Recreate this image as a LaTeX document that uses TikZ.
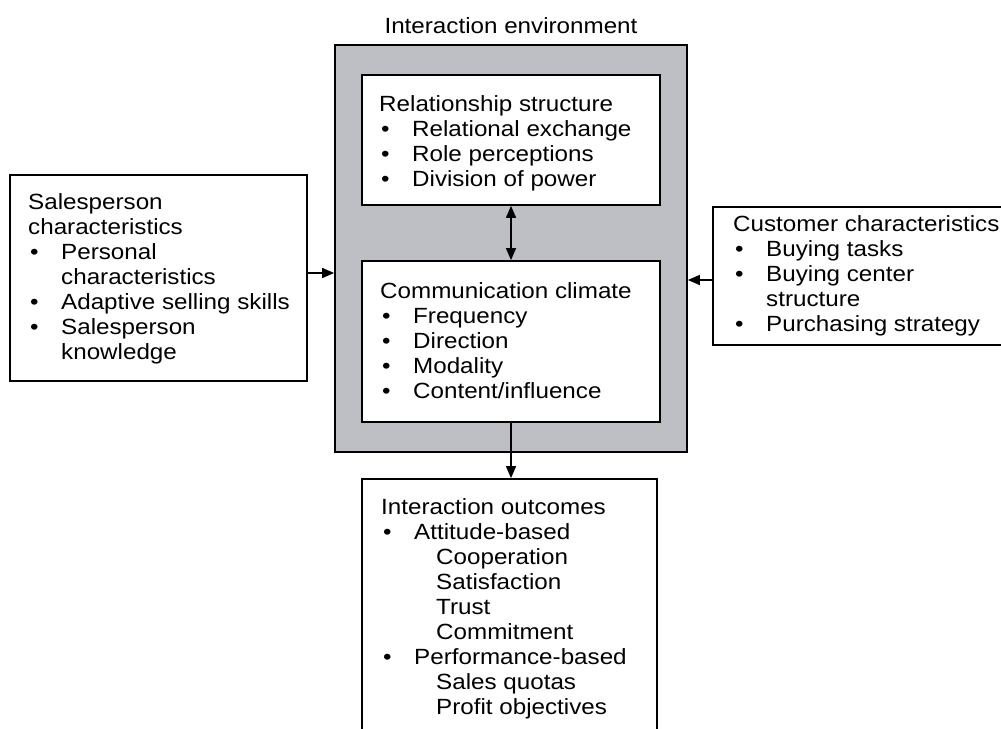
\documentclass[tikz,border=0pt]{standalone}
\usepackage{fontspec}
\setmainfont{Liberation Sans}[FakeStretch=1.1]
\usetikzlibrary{arrows.meta}
\definecolor{envgray}{RGB}{190,191,196}
% one line of a text block, a bulleted item, its continuation, a sub-item
\newcommand\tline[1]{\hbox{#1}}
\newcommand\titem[1]{\hbox{\makebox[33pt][l]{\hspace{2pt}\textbullet}#1}}
\newcommand\tcont[1]{\hbox{\hspace*{33pt}#1}}
\newcommand\tsub[1]{\hbox{\hspace*{55pt}#1}}
\newcommand\tblock[1]{\vtop{\baselineskip=25pt\lineskiplimit=-20pt\lineskip=0pt #1}}
\begin{document}
\begin{tikzpicture}[x=1pt,y=-1pt,
  box/.style={draw=black, line width=1.8pt, fill=white, inner sep=0pt},
  txt/.style={inner sep=0pt, anchor=base west, font=\fontsize{22}{25}\selectfont},
  tip/.style={Triangle[length=12pt,width=10pt]},
  arr/.style={line width=1.6pt, -{Triangle[length=12pt,width=10pt]}},
  darr/.style={line width=1.6pt, {Triangle[length=12pt,width=10pt]}-{Triangle[length=12pt,width=10pt]}}]
\fill[white] (0,0) rectangle (1001,728);
\path[use as bounding box, clip] (0,0) rectangle (1001,728);

% boxes
\node[box, fill=envgray, minimum width=352pt, minimum height=407pt] (env) at (511,248.5) {};
\node[box, minimum width=298pt, minimum height=130pt] (rel) at (511,140) {};
\node[box, minimum width=298pt, minimum height=161pt] (com) at (511,341.5) {};
\node[box, minimum width=295pt, minimum height=261pt] (out) at (509.5,609.5) {};
\node[box, minimum width=297pt, minimum height=206pt] (sp) at (158.5,278) {};
\node[box, minimum width=299pt, minimum height=138pt] (cu) at (862.5,276) {};

% texts
\node[txt, anchor=base] (title) at (511,33) {Interaction environment};
\node[txt] (reltxt) at (379,111) {\tblock{\tline{Relationship structure}\titem{Relational exchange}\titem{Role perceptions}\titem{Division of power}}};
\node[txt] (comtxt) at (380,298) {\tblock{\tline{Communication climate}\titem{Frequency}\titem{Direction}\titem{Modality}\titem{Content/influence}}};
\node[txt] (outtxt) at (381,514) {\tblock{\tline{Interaction outcomes}\titem{Attitude-based}\tsub{Cooperation}\tsub{Satisfaction}\tsub{Trust}\tsub{Commitment}\titem{Performance-based}\tsub{Sales quotas}\tsub{Profit objectives}}};
\node[txt] (sptxt) at (28,209) {\tblock{\tline{Salesperson}\tline{characteristics}\titem{Personal}\tcont{characteristics}\titem{Adaptive selling skills}\titem{Salesperson}\tcont{knowledge}}};
\node[txt] (cutxt) at (733,231) {\tblock{\tline{Customer characteristics}\titem{Buying tasks}\titem{Buying center}\tcont{structure}\titem{Purchasing strategy}}};

% connectors
\draw[darr] (rel.south) -- (com.north);
\draw[arr] (com.south) -- (com.south |- out.north);
\draw[arr] ([yshift=5pt]sp.east) -- ([yshift=5pt]sp.east -| env.west);
\draw[arr] ([yshift=-4pt]cu.west) -- ([yshift=-4pt]cu.west -| env.east);
\end{tikzpicture}
\end{document}
